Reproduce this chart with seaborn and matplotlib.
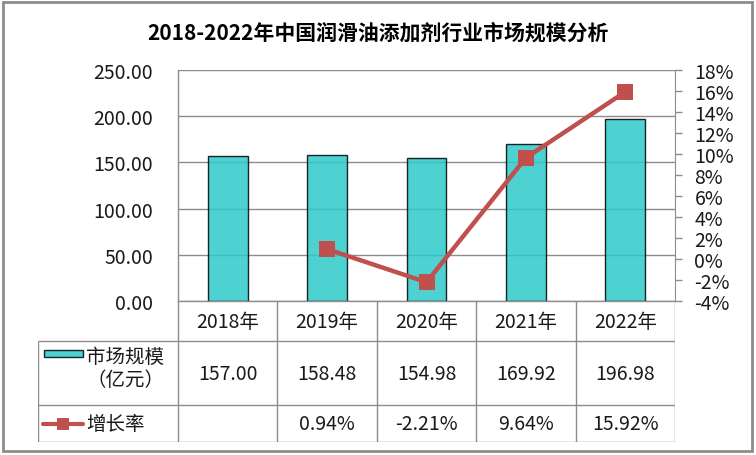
import matplotlib
matplotlib.use("Agg")
import matplotlib.pyplot as plt
from matplotlib.patches import Rectangle
from matplotlib.lines import Line2D
import numpy as np
import seaborn as sns

years = ["2018年", "2019年", "2020年", "2021年", "2022年"]
market_size = [157.00, 158.48, 154.98, 169.92, 196.98]
growth = [np.nan, 0.94, -2.21, 9.64, 15.92]
growth_labels = ["", "0.94%", "-2.21%", "9.64%", "15.92%"]
left_ticks = [0, 50, 100, 150, 200, 250]
right_ticks = list(range(-4, 19, 2))

BAR = "#2EC9C9"
RED = "#C0504D"
GRID = "#8C8C8C"
FS = 14

sns.set_style("white")
plt.rcParams["font.family"] = ["Noto Sans CJK SC", "DejaVu Sans"]

W, H = 756, 456
fig = plt.figure(figsize=(W / 100, H / 100), dpi=100)

# plot area in pixels
L, R, T, B = 178, 675, 71, 302
ax = fig.add_axes([L / W, 1 - B / H, (R - L) / W, (B - T) / H])

sns.barplot(x=years, y=market_size, color=BAR, saturation=1, alpha=0.85,
            width=0.4, edgecolor="black", linewidth=1, ax=ax)
ax.set_xlim(-0.5, 4.5)
ax.set_ylim(0, 250)
ax.set_yticks(left_ticks)
ax.set_yticklabels([f"{v:.2f}" for v in left_ticks], fontsize=FS, color="#1a1a1a")
ax.tick_params(axis="y", length=0, pad=18)
ax.set_xticks([])
ax.set_xlabel("")
ax.set_ylabel("")
ax.yaxis.grid(True, color=GRID, linewidth=1)
ax.set_axisbelow(True)
for s in ["top", "right"]:
    ax.spines[s].set_visible(False)
for s in ["left", "bottom"]:
    ax.spines[s].set_color(GRID)
    ax.spines[s].set_linewidth(1)

ax2 = ax.twinx()
sns.lineplot(x=np.arange(len(years)), y=growth, color=RED, linewidth=3.2,
             marker="s", markersize=11.5, markeredgewidth=0, ax=ax2)
ax2.set_xlim(-0.5, 4.5)
ax2.set_ylim(-4, 18)
ax2.set_yticks(right_ticks)
ax2.set_yticklabels([f"{v}%" for v in right_ticks], fontsize=FS, color="#1a1a1a")
ax2.tick_params(axis="y", length=5, width=1, color=GRID, pad=9, direction="out")
for s in ["top", "left", "bottom"]:
    ax2.spines[s].set_visible(False)
ax2.spines["right"].set_color(GRID)
ax2.set_ylabel("")

# data table below the plot
unit = (R - L) / len(years)
X0 = -0.5 - (L - 38) / unit
TB = 443
tab = fig.add_axes([38 / W, 1 - TB / H, (R - 38) / W, (TB - B) / H])
tab.set_xlim(X0, 4.5)
tab.set_ylim(TB, B)
tab.axis("off")

def px(x):
    return X0 + (x - 38) / unit

row_edges = [B, 342, 406, TB]
kw = dict(color=GRID, linewidth=1, solid_capstyle="butt")
for i in range(len(years) + 1):
    tab.plot([i - 0.5, i - 0.5], [B, TB], **kw)
tab.plot([X0, X0], [row_edges[1], TB], **kw)
for y in row_edges[1:]:
    tab.plot([X0, 4.5], [y, y], **kw)

yc = [(row_edges[k] + row_edges[k + 1]) / 2 for k in range(3)]
for i, yr in enumerate(years):
    tab.text(i, yc[0], yr, ha="center", va="center", fontsize=FS, color="#1a1a1a")
    tab.text(i, yc[1], f"{market_size[i]:.2f}", ha="center", va="center",
             fontsize=FS, color="#1a1a1a")
    tab.text(i, yc[2], growth_labels[i], ha="center", va="center",
             fontsize=FS, color="#1a1a1a")

# legend keys in first column
tab.add_patch(Rectangle((px(44), 351), px(83) - px(44), 7, facecolor=BAR,
                        alpha=0.85, edgecolor="black", linewidth=1))
tab.text(px(86), 357, "市场规模", ha="left", va="center", fontsize=FS, color="#1a1a1a")
tab.text(px(86), 381, "（亿元）", ha="left", va="center", fontsize=FS, color="#1a1a1a")
tab.plot([px(43), px(83)], [yc[2], yc[2]], color=RED, linewidth=3)
tab.plot([px(63)], [yc[2]], marker="s", color=RED, markersize=8, markeredgewidth=0)
tab.text(px(86), yc[2], "增长率", ha="left", va="center", fontsize=FS, color="#1a1a1a")

fig.text(378 / W, 1 - 33 / H, "2018-2022年中国润滑油添加剂行业市场规模分析",
         ha="center", va="center", fontsize=15, fontweight="bold", color="black")

fig.add_artist(Rectangle((3 / W, 1 - 452 / H), 749 / W, 449 / H,
                         transform=fig.transFigure, fill=False,
                         edgecolor="#8C8C8C", linewidth=2))

fig.savefig("out.png", dpi=100)
